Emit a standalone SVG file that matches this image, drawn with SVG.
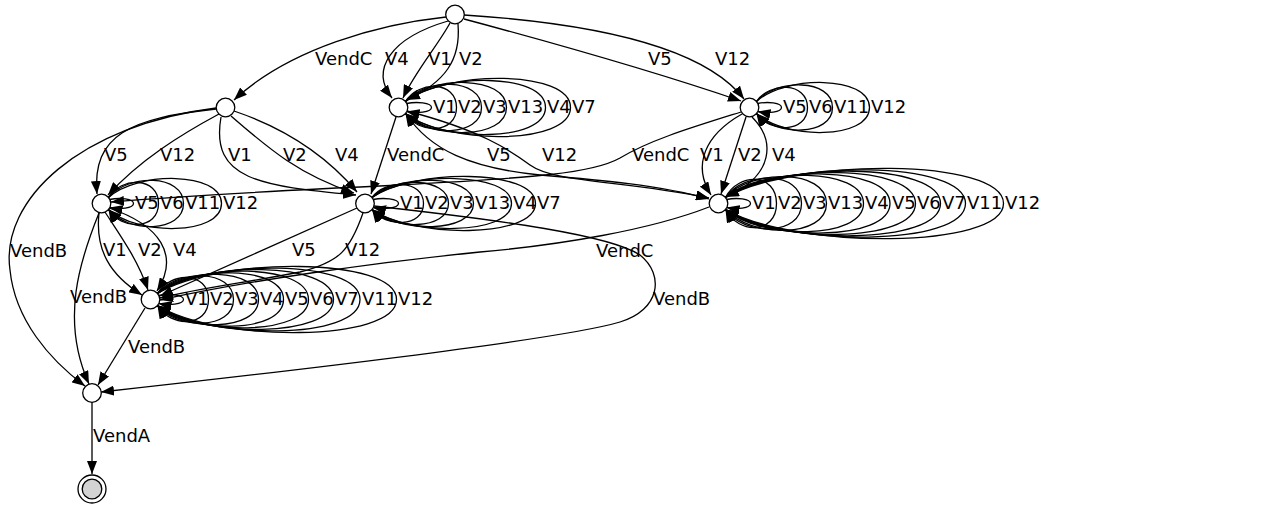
<svg xmlns="http://www.w3.org/2000/svg" width="1263" height="509" viewBox="0 0 1263 509">
<style>
.e{fill:none;stroke:#000;stroke-width:1.3;marker-end:url(#a)}
.n{fill:#fff;stroke:#000;stroke-width:1.3}
text{font-family:"DejaVu Sans","Liberation Sans",sans-serif;font-size:18px;fill:#000}
</style>
<defs>
<marker id="a" viewBox="0 0 13 10" refX="13" refY="5" markerWidth="13" markerHeight="10" markerUnits="userSpaceOnUse" orient="auto">
<path d="M0,0 L13,5 L0,10 z" fill="#000"/>
</marker>
</defs>
<rect width="1263" height="509" fill="#fff"/>
<g id="edges">
<path class="e" d="M446,17 C380,24 290,48 234,100"/>
<path class="e" d="M448,21 C390,38 370,70 392,98"/>
<path class="e" d="M450,23 C438,45 415,72 403,98"/>
<path class="e" d="M458,24 C461,60 445,82 407,100"/>
<path class="e" d="M464,19 C550,42 650,70 741,101"/>
<path class="e" d="M464,15 C620,25 710,55 744,99"/>
<path class="e" d="M216,109 C130,118 92,135 97,194"/>
<path class="e" d="M219,114 C180,135 140,160 108,195"/>
<path class="e" d="M221,117 C210,180 260,186 356,195"/>
<path class="e" d="M231,116 C270,150 300,175 354,193"/>
<path class="e" d="M234,111 C290,130 330,160 357,192"/>
<path class="e" d="M216,108 C80,125 0,200 10,270 C15,320 50,360 85,386"/>
<path class="e" d="M396,117 L371,194"/>
<path class="e" d="M406,114 C430,150 470,168 540,175 C600,180 660,185 709,199"/>
<path class="e" d="M407,111 C480,130 510,150 530,165 C555,183 620,180 709,198"/>
<path class="e" d="M741,112 C690,128 650,140 620,158 C590,175 520,178 400,185 C250,192 170,197 111,202"/>
<path class="e" d="M742,114 C705,135 692,165 711,195"/>
<path class="e" d="M746,117 L721,194"/>
<path class="e" d="M752,117 C775,140 775,175 726,197"/>
<path class="e" d="M99,213 C95,250 110,275 142,295"/>
<path class="e" d="M105,212 C120,235 138,260 148,290"/>
<path class="e" d="M109,208 C160,225 180,255 157,291"/>
<path class="e" d="M99,213 C80,260 60,320 89,384"/>
<path class="e" d="M357,208 L160,296"/>
<path class="e" d="M363,213 C350,250 340,262 300,272 C250,282 200,288 160,298"/>
<path class="e" d="M374,206 C500,220 610,235 640,255 C665,275 660,310 620,322 C560,340 300,370 101,392"/>
<path class="e" d="M709,207 C650,230 560,245 480,252 C380,262 250,280 160,300"/>
<path class="e" d="M145,308 L98,385"/>
<path class="e" d="M92,402 L92,474"/>
<!-- loops B -->
<path class="e" d="M406.5,103.5 C416.5,101.5 431.5,102.5 431.5,107.5 C431.5,112.5 416.5,113.5 406.5,111.5"/>
<path class="e" d="M405.5,101.5 C418.3,80.5 456.5,80.5 456.5,107.5 C456.5,134.5 418.3,134.5 405.5,113.5"/>
<path class="e" d="M405.5,101.5 C424.5,77.8 481.5,77.8 481.5,107.5 C481.5,137.2 424.5,137.2 405.5,113.5"/>
<path class="e" d="M405.5,101.5 C430.8,75.2 506.5,75.2 506.5,107.5 C506.5,139.8 430.8,139.8 405.5,113.5"/>
<path class="e" d="M405.5,101.5 C440.5,72.5 545.5,72.5 545.5,107.5 C545.5,142.5 440.5,142.5 405.5,113.5"/>
<path class="e" d="M405.5,101.5 C446.8,69.8 570.5,69.8 570.5,107.5 C570.5,145.2 446.8,145.2 405.5,113.5"/>
<!-- loops C -->
<path class="e" d="M757.5,103.5 C767.5,101.5 781.5,102.5 781.5,107.5 C781.5,112.5 767.5,113.5 757.5,111.5"/>
<path class="e" d="M756.5,101.5 C769.3,81.8 807.5,81.8 807.5,107.5 C807.5,133.2 769.3,133.2 756.5,113.5"/>
<path class="e" d="M756.5,101.5 C775.5,78.5 832.5,78.5 832.5,107.5 C832.5,136.5 775.5,136.5 756.5,113.5"/>
<path class="e" d="M756.5,101.5 C784.8,75.2 869.5,75.2 869.5,107.5 C869.5,139.8 784.8,139.8 756.5,113.5"/>
<!-- loops D -->
<path class="e" d="M109.5,199.5 C119.5,197.5 133.5,198.5 133.5,203.5 C133.5,208.5 119.5,209.5 109.5,207.5"/>
<path class="e" d="M108.5,197.5 C121,176.5 158.5,176.5 158.5,203.5 C158.5,230.5 121,230.5 108.5,209.5"/>
<path class="e" d="M108.5,197.5 C127.3,173.8 183.5,173.8 183.5,203.5 C183.5,233.2 127.3,233.2 108.5,209.5"/>
<path class="e" d="M108.5,197.5 C136.8,171.2 221.5,171.2 221.5,203.5 C221.5,235.8 136.8,235.8 108.5,209.5"/>
<!-- loops E -->
<path class="e" d="M373,199.5 C383,197.5 398.5,198.5 398.5,203.5 C398.5,208.5 383,209.5 373,207.5"/>
<path class="e" d="M372,197.5 C384.9,179.2 423.5,179.2 423.5,203.5 C423.5,227.8 384.9,227.8 372,209.5"/>
<path class="e" d="M372,197.5 C391.1,176.5 448.5,176.5 448.5,203.5 C448.5,230.5 391.1,230.5 372,209.5"/>
<path class="e" d="M372,197.5 C397.4,173.8 473.5,173.8 473.5,203.5 C473.5,233.2 397.4,233.2 372,209.5"/>
<path class="e" d="M372,197.5 C406.9,171.2 511.5,171.2 511.5,203.5 C511.5,235.8 406.9,235.8 372,209.5"/>
<path class="e" d="M372,197.5 C412.9,168.5 535.5,168.5 535.5,203.5 C535.5,238.5 412.9,238.5 372,209.5"/>
<!-- loops F -->
<path class="e" d="M726.5,199.5 C736.5,197.5 750.5,198.5 750.5,203.5 C750.5,208.5 736.5,209.5 726.5,207.5"/>
<path class="e" d="M725.5,197.5 C738.3,172.5 776.5,172.5 776.5,203.5 C776.5,234.5 738.3,234.5 725.5,209.5"/>
<path class="e" d="M725.5,197.5 C744.5,170.6 801.5,170.6 801.5,203.5 C801.5,236.4 744.5,236.4 725.5,209.5"/>
<path class="e" d="M725.5,197.5 C750.8,168.8 826.5,168.8 826.5,203.5 C826.5,238.2 750.8,238.2 725.5,209.5"/>
<path class="e" d="M725.5,197.5 C760,167 863.5,167 863.5,203.5 C863.5,240 760,240 725.5,209.5"/>
<path class="e" d="M725.5,197.5 C766.6,165.2 890,165.2 890,203.5 C890,241.8 766.6,241.8 725.5,209.5"/>
<path class="e" d="M725.5,197.5 C773,163.3 915.5,163.3 915.5,203.5 C915.5,243.7 773,243.7 725.5,209.5"/>
<path class="e" d="M725.5,197.5 C779.3,161.5 940.5,161.5 940.5,203.5 C940.5,245.5 779.3,245.5 725.5,209.5"/>
<path class="e" d="M725.5,197.5 C785.5,159.7 965.5,159.7 965.5,203.5 C965.5,247.3 785.5,247.3 725.5,209.5"/>
<path class="e" d="M725.5,197.5 C795,157.8 1003.5,157.8 1003.5,203.5 C1003.5,249.2 795,249.2 725.5,209.5"/>
<!-- loops G -->
<path class="e" d="M158.5,295.5 C168.5,293.5 183.5,294.5 183.5,299.5 C183.5,304.5 168.5,305.5 158.5,303.5"/>
<path class="e" d="M157.5,293.5 C170.3,271.2 208.5,271.2 208.5,299.5 C208.5,327.8 170.3,327.8 157.5,305.5"/>
<path class="e" d="M157.5,293.5 C176.5,269 233.5,269 233.5,299.5 C233.5,330 176.5,330 157.5,305.5"/>
<path class="e" d="M157.5,293.5 C182.8,267 258.5,267 258.5,299.5 C258.5,332 182.8,332 157.5,305.5"/>
<path class="e" d="M157.5,293.5 C189,264.9 283.5,264.9 283.5,299.5 C283.5,334.1 189,334.1 157.5,305.5"/>
<path class="e" d="M157.5,293.5 C195.3,262.8 308.5,262.8 308.5,299.5 C308.5,336.2 195.3,336.2 157.5,305.5"/>
<path class="e" d="M157.5,293.5 C201.5,260.6 333.5,260.6 333.5,299.5 C333.5,338.4 201.5,338.4 157.5,305.5"/>
<path class="e" d="M157.5,293.5 C208.1,258.6 360,258.6 360,299.5 C360,340.4 208.1,340.4 157.5,305.5"/>
<path class="e" d="M157.5,293.5 C217.3,256.5 396.5,256.5 396.5,299.5 C396.5,342.5 217.3,342.5 157.5,305.5"/>
</g>
<g id="edge-labels">
<text x="315" y="65">VendC</text>
<text x="385" y="65">V4</text>
<text x="428" y="65">V1</text>
<text x="459" y="65">V2</text>
<text x="648" y="65">V5</text>
<text x="715" y="65">V12</text>
<text x="104" y="161">V5</text>
<text x="160" y="161">V12</text>
<text x="228" y="161">V1</text>
<text x="283" y="161">V2</text>
<text x="335" y="161">V4</text>
<text x="10" y="257">VendB</text>
<text x="387" y="161">VendC</text>
<text x="487" y="161">V5</text>
<text x="542" y="161">V12</text>
<text x="632" y="161">VendC</text>
<text x="700" y="161">V1</text>
<text x="738" y="161">V2</text>
<text x="772" y="161">V4</text>
<text x="103" y="256">V1</text>
<text x="138" y="256">V2</text>
<text x="173" y="256">V4</text>
<text x="70" y="303">VendB</text>
<text x="292" y="256">V5</text>
<text x="345" y="256">V12</text>
<text x="653" y="305">VendB</text>
<text x="596" y="257">VendC</text>
<text x="128" y="353">VendB</text>
<text x="93" y="442">VendA</text>
<text x="433" y="113">V1</text><text x="458" y="113">V2</text><text x="483" y="113">V3</text><text x="508" y="113">V13</text><text x="547" y="113">V4</text><text x="572" y="113">V7</text>
<text x="783" y="113">V5</text><text x="809" y="113">V6</text><text x="834" y="113">V11</text><text x="871" y="113">V12</text>
<text x="135" y="209">V5</text><text x="160" y="209">V6</text><text x="185" y="209">V11</text><text x="223" y="209">V12</text>
<text x="400" y="209">V1</text><text x="425" y="209">V2</text><text x="450" y="209">V3</text><text x="475" y="209">V13</text><text x="513" y="209">V4</text><text x="537" y="209">V7</text>
<text x="752" y="209">V1</text><text x="778" y="209">V2</text><text x="803" y="209">V3</text><text x="828" y="209">V13</text><text x="865" y="209">V4</text><text x="892" y="209">V5</text><text x="917" y="209">V6</text><text x="942" y="209">V7</text><text x="967" y="209">V11</text><text x="1005" y="209">V12</text>
<text x="185" y="305">V1</text><text x="210" y="305">V2</text><text x="235" y="305">V3</text><text x="260" y="305">V4</text><text x="285" y="305">V5</text><text x="310" y="305">V6</text><text x="335" y="305">V7</text><text x="362" y="305">V11</text><text x="398" y="305">V12</text>
</g>
<g id="node-start"><circle class="n" cx="455" cy="14.5" r="9.3"/></g>
<g id="node-A"><circle class="n" cx="225.5" cy="107.5" r="9.3"/></g>
<g id="node-B"><circle class="n" cx="398.5" cy="107.5" r="9.3"/></g>
<g id="node-C"><circle class="n" cx="749.5" cy="107.5" r="9.3"/></g>
<g id="node-D"><circle class="n" cx="101.5" cy="203.5" r="9.3"/></g>
<g id="node-E"><circle class="n" cx="365" cy="203.5" r="9.3"/></g>
<g id="node-F"><circle class="n" cx="718.5" cy="203.5" r="9.3"/></g>
<g id="node-G"><circle class="n" cx="150.5" cy="299.5" r="9.3"/></g>
<g id="node-H"><circle class="n" cx="92" cy="393" r="9.3"/></g>
<g id="node-final"><circle cx="92" cy="489" r="14" fill="#fff" stroke="#000" stroke-width="1.3"/><circle cx="92" cy="489" r="9.8" fill="#d3d3d3" stroke="#000" stroke-width="1.3"/></g>
</svg>
